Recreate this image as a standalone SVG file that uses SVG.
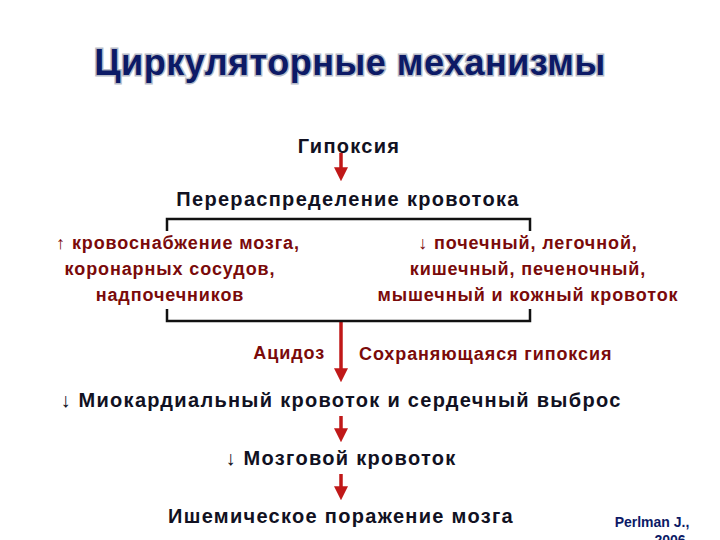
<svg xmlns="http://www.w3.org/2000/svg" width="720" height="540" viewBox="0 0 720 540">
<style>
text{font-family:"Liberation Sans",Arial,sans-serif;font-weight:bold}
.b{fill:#111122;font-size:20px;letter-spacing:1.3px}
.r{fill:#7a0a0a;font-size:18px;letter-spacing:0.9px}
.br{fill:none;stroke:#111;stroke-width:2.5}
.ar{stroke:#c01818;stroke-width:3.5;fill:none}
</style>
<defs><marker id="h" markerWidth="4" markerHeight="4" refX="2.2" refY="2" orient="auto"><path d="M0,0L4,2L0,4Z" fill="#c01818"/></marker></defs>
<rect width="720" height="540" fill="#fff"/>
<g id="title"><text x="350" y="75" text-anchor="middle" font-size="36" fill="#0c1a66" letter-spacing="0.5" style="paint-order:stroke" stroke="#b8bcc8" stroke-width="3">Циркуляторные механизмы</text></g>
<g id="connectors">
<line class="ar" x1="341" y1="153" x2="341" y2="175" marker-end="url(#h)"/>
<line class="ar" x1="341" y1="322" x2="341" y2="376" marker-end="url(#h)"/>
<line class="ar" x1="341" y1="416" x2="341" y2="436" marker-end="url(#h)"/>
<line class="ar" x1="341" y1="474" x2="341" y2="494" marker-end="url(#h)"/>
<path class="br" d="M167,231V219H530V231"/>
<path class="br" d="M167,309V321H530V309"/>
</g>
<g id="n1"><text class="b" x="349" y="153" text-anchor="middle">Гипоксия</text></g>
<g id="n2"><text class="b" x="348" y="206" text-anchor="middle">Перераспределение кровотока</text></g>
<g id="n3"><text class="r" text-anchor="middle"><tspan x="178" y="249">↑ кровоснабжение мозга,</tspan><tspan x="170" y="275">коронарных сосудов,</tspan><tspan x="170" y="301">надпочечников</tspan></text></g>
<g id="n4"><text class="r" text-anchor="middle"><tspan x="528" y="249">↓ почечный, легочной,</tspan><tspan x="528" y="275">кишечный, печеночный,</tspan><tspan x="528" y="301">мышечный и кожный кровоток</tspan></text></g>
<g id="n5"><text class="r" x="325" y="359" text-anchor="end">Ацидоз</text></g>
<g id="n6"><text class="r" x="359" y="360">Сохраняющаяся гипоксия</text></g>
<g id="n7"><text class="b" x="341" y="407" text-anchor="middle">↓ Миокардиальный кровоток и сердечный выброс</text></g>
<g id="n8"><text class="b" x="341" y="465" text-anchor="middle">↓ Мозговой кровоток</text></g>
<g id="n9"><text class="b" x="341" y="523" text-anchor="middle">Ишемическое поражение мозга</text></g>
<g id="cite"><text font-size="14" fill="#0c1a66" text-anchor="middle"><tspan x="652" y="527">Perlman J.,</tspan><tspan x="670" y="545">2006</tspan></text></g>
</svg>
